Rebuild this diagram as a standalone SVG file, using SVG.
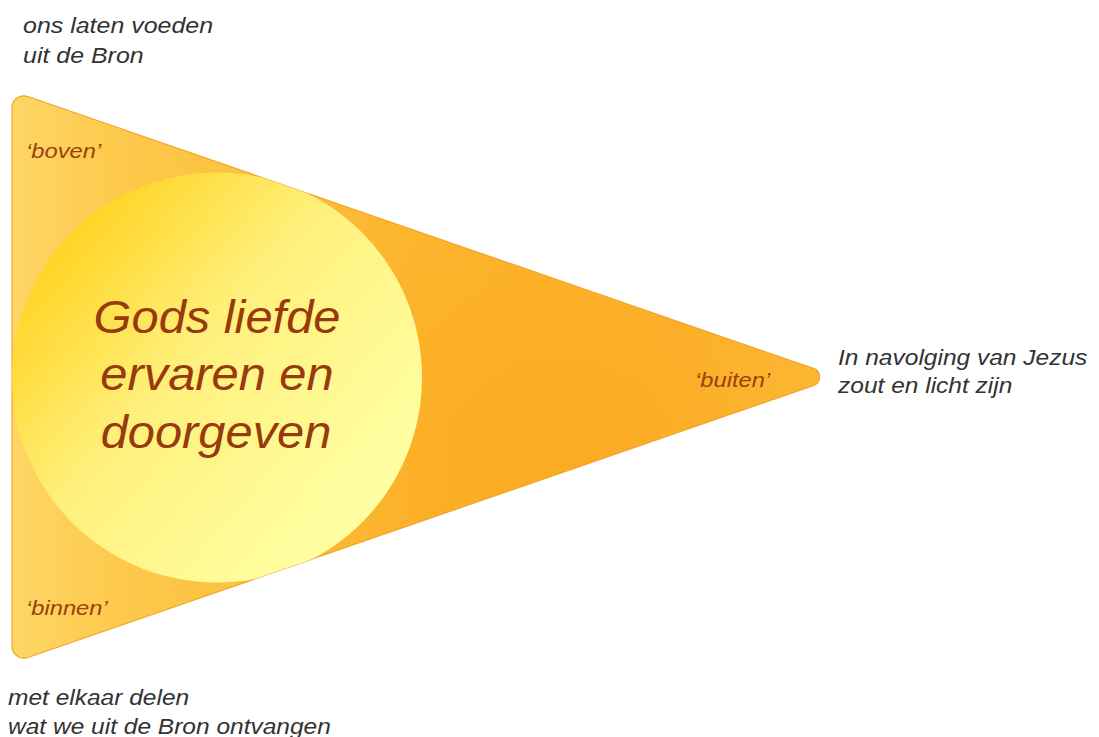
<svg xmlns="http://www.w3.org/2000/svg" width="1099" height="737" viewBox="0 0 1099 737">
  <style>
    .note { font-family: "Liberation Sans", Arial, sans-serif; font-style: italic; font-size: 22.5px; fill: #333333; }
    .lab { font-family: "Liberation Sans", Arial, sans-serif; font-style: italic; font-size: 21px; fill: #9a400e; }
    .main { font-family: "Liberation Sans", Arial, sans-serif; font-style: italic; font-size: 46.5px; fill: #983a0c; text-anchor: middle; }
  </style>
  <defs>
    <path id="triPath" d="M 27.9 96.5 L 813.2 368.4 A 9 9 0 0 1 813.2 385.6 L 27.9 657.5 A 12 12 0 0 1 12 646.2 L 12 107.8 A 12 12 0 0 1 27.9 96.5 Z"/>
    <clipPath id="triClip"><use href="#triPath"/></clipPath>
    <linearGradient id="triGrad" gradientUnits="userSpaceOnUse" x1="12" y1="0" x2="838" y2="0">
      <stop offset="0" stop-color="#fdd667"/>
      <stop offset="0.12" stop-color="#fdca4c"/>
      <stop offset="0.5" stop-color="#fcb42c"/>
      <stop offset="0.8" stop-color="#fcb12b"/>
      <stop offset="1" stop-color="#fcb733"/>
    </linearGradient>
    <radialGradient id="triShade" gradientUnits="userSpaceOnUse" cx="540" cy="470" r="260">
      <stop offset="0" stop-color="#fa9f12" stop-opacity="0.4"/>
      <stop offset="1" stop-color="#fa9f12" stop-opacity="0"/>
    </radialGradient>
    <linearGradient id="circGrad" x1="0.1" y1="0.15" x2="0.85" y2="0.8">
      <stop offset="0" stop-color="#ffd21e"/>
      <stop offset="0.45" stop-color="#fff07c"/>
      <stop offset="1" stop-color="#ffffa2"/>
    </linearGradient>
  </defs>

  <g id="triangle">
    <use href="#triPath" fill="url(#triGrad)"/>
    <use href="#triPath" fill="url(#triShade)"/>
    <use href="#triPath" fill="none" stroke="#f2a42a" stroke-width="1.2"/>
  </g>

  <g id="circle" clip-path="url(#triClip)">
    <circle cx="217" cy="377.5" r="205" fill="url(#circGrad)"/>
  </g>

  <g id="connectors"/>

  <g id="center-text">
    <text class="main" transform="translate(217,332.7) scale(1.05,1)">Gods liefde</text>
    <text class="main" transform="translate(217,390) scale(1.05,1)">ervaren en</text>
    <text class="main" transform="translate(216,447.7) scale(1.05,1)">doorgeven</text>
  </g>

  <g id="label-boven">
    <text class="lab" transform="translate(26,158.3) scale(1.13,1)">‘boven’</text>
  </g>
  <g id="label-binnen">
    <text class="lab" transform="translate(26,615) scale(1.13,1)">‘binnen’</text>
  </g>
  <g id="label-buiten">
    <text class="lab" transform="translate(695,386.5) scale(1.13,1)">‘buiten’</text>
  </g>

  <g id="note-top">
    <text class="note" transform="translate(23,33) scale(1.11,1)">ons laten voeden</text>
    <text class="note" transform="translate(23,63) scale(1.11,1)">uit de Bron</text>
  </g>
  <g id="note-right">
    <text class="note" transform="translate(838,365) scale(1.09,1)">In navolging van Jezus</text>
    <text class="note" transform="translate(838,393) scale(1.09,1)">zout en licht zijn</text>
  </g>
  <g id="note-bottom">
    <text class="note" transform="translate(8,705) scale(1.09,1)">met elkaar delen</text>
    <text class="note" transform="translate(8,734) scale(1.09,1)">wat we uit de Bron ontvangen</text>
  </g>
</svg>
